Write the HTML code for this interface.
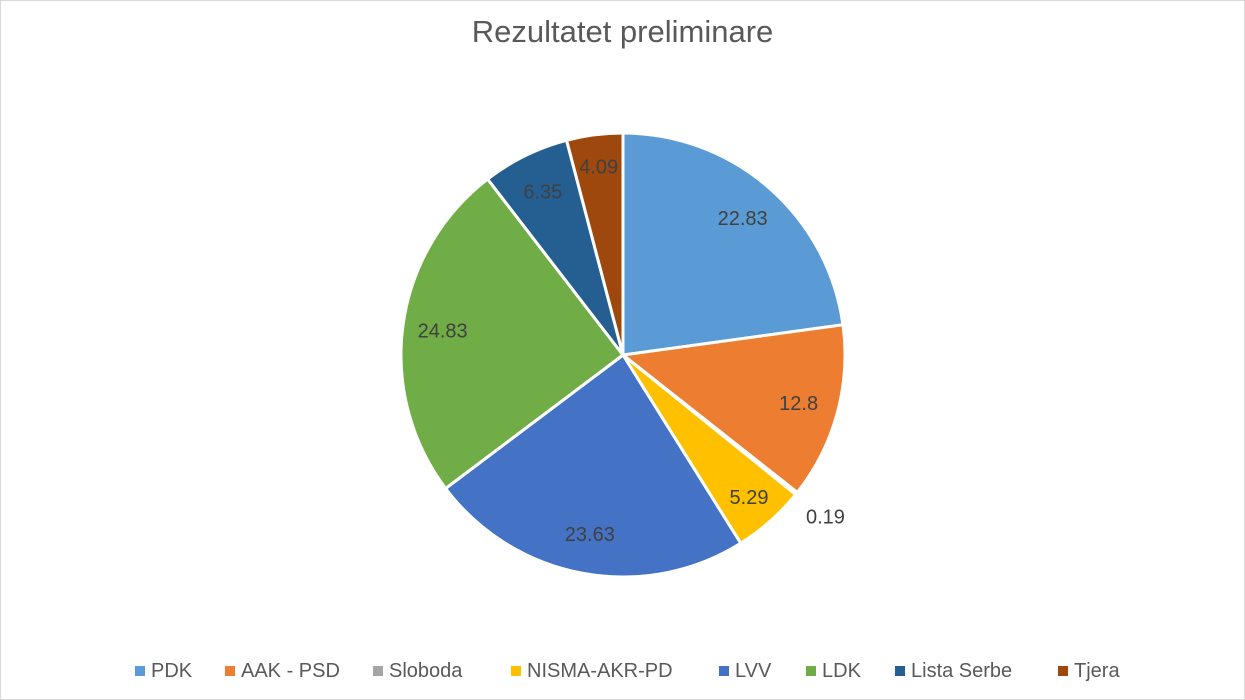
<!DOCTYPE html>
<html><head><meta charset="utf-8"><style>
body{margin:0;background:#fff;}
#wrap{position:relative;width:1245px;height:700px;overflow:hidden;font-family:"Liberation Sans",sans-serif;}
#frame{position:absolute;left:0;top:0;width:1243px;height:698px;border:1px solid #d9d9d9;}
#title{position:absolute;top:14px;width:1245px;text-align:center;font-size:31px;color:#595959;}
.lg{position:absolute;top:660px;font-size:20px;color:#595959;white-space:nowrap;}
.lg span{display:inline-block;width:10px;height:10px;margin-right:6px;vertical-align:1px;}
</style></head><body>
<div id="wrap">
<div id="frame"></div>
<div id="title">Rezultatet preliminare</div>
<svg id="pie" width="1245" height="700" style="position:absolute;left:0;top:0"></svg>
<div id="legend"></div>
</div>
<script>
const categories=["PDK","AAK - PSD","Sloboda","NISMA-AKR-PD","LVV","LDK","Lista Serbe","Tjera"];
const values=[22.83,12.8,0.19,5.29,23.63,24.83,6.35,4.09];
const labels=["22.83","12.8","0.19","5.29","23.63","24.83","6.35","4.09"];
const colors=["#5B9BD5","#ED7D31","#A5A5A5","#FFC000","#4472C4","#70AD47","#255E91","#9E480E"];
const legendX=[135,225,373,511,719,806,895,1058];
const cx=623,cy=355,R=222;
const svg=document.getElementById('pie');
const NS="http://www.w3.org/2000/svg";
const total=values.reduce((a,b)=>a+b,0);
let acc=0;
function pt(a,r){return [cx+r*Math.sin(a),cy-r*Math.cos(a)];}
values.forEach((v,i)=>{
  const a0=acc/total*2*Math.PI; acc+=v; const a1=acc/total*2*Math.PI;
  const p0=pt(a0,R),p1=pt(a1,R);
  const p=document.createElementNS(NS,'path');
  p.setAttribute('d',`M${cx},${cy}L${p0[0]},${p0[1]}A${R},${R} 0 ${a1-a0>Math.PI?1:0} 1 ${p1[0]},${p1[1]}Z`);
  p.setAttribute('fill',colors[i]);p.setAttribute('stroke','#fff');p.setAttribute('stroke-width','3');
  
  
  svg.appendChild(p);
});
acc=0;
values.forEach((v,i)=>{
  const am=(acc+v/2)/total*2*Math.PI; acc+=v;
  const r=v<1?259:(v<6?190:182);
  const q=pt(am,r);
  const t=document.createElementNS(NS,'text');
  t.setAttribute('x',q[0]);t.setAttribute('y',q[1]+7);
  t.setAttribute('text-anchor','middle');t.setAttribute('font-size','20');
  t.setAttribute('fill','#404040');t.setAttribute('font-family','Liberation Sans, sans-serif');
  t.textContent=labels[i];
  
  
  svg.appendChild(t);
});
const lg=document.getElementById('legend');
categories.forEach((c,i)=>{
  const d=document.createElement('div');
  d.className='lg';d.style.left=legendX[i]+'px';
  d.innerHTML='<span style="background:'+colors[i]+'"></span>'+c;
  
  
  lg.appendChild(d);
});
</script>
</body></html>
